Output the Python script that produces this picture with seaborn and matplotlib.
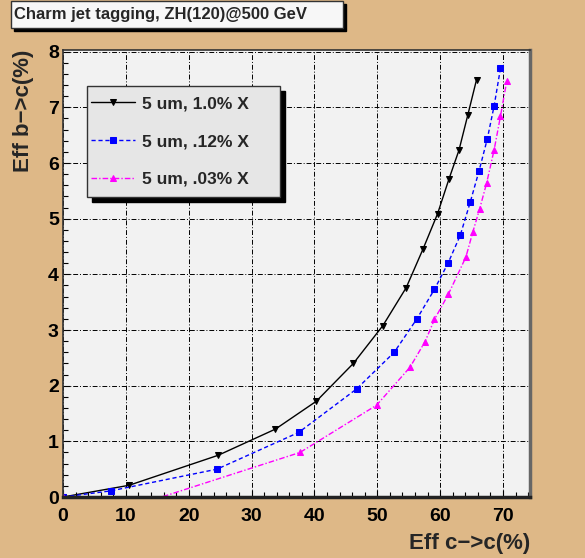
import pandas as pd
import seaborn as sns
import matplotlib.pyplot as plt
from matplotlib.patches import Rectangle
from matplotlib.ticker import MultipleLocator

# values
eff_c_10 = [0.0, 10.5, 24.7, 33.8, 40.3, 46.2, 50.9, 54.6, 57.3, 59.6, 61.4, 63.0, 64.4, 65.8]
eff_b_10 = [0.0, 0.21, 0.75, 1.22, 1.72, 2.40, 3.08, 3.76, 4.46, 5.09, 5.71, 6.23, 6.86, 7.50]

eff_c_012 = [0.0, 7.6, 24.5, 37.5, 46.7, 52.7, 56.3, 59.1, 61.3, 63.2, 64.8, 66.2, 67.5, 68.6, 69.6]
eff_b_012 = [0.0, 0.11, 0.50, 1.16, 1.94, 2.60, 3.20, 3.73, 4.21, 4.70, 5.30, 5.86, 6.43, 7.03, 7.70]

# the .03% curve leaves the x axis at about 15.7 (no marker there)
eff_c_003 = [0.0, 15.7, 37.7, 49.9, 55.2, 57.6, 59.1, 61.3, 64.1, 65.2, 66.3, 67.4, 68.6, 69.6, 70.6]
eff_b_003 = [0.0, 0.0, 0.80, 1.65, 2.33, 2.79, 3.19, 3.64, 4.31, 4.76, 5.18, 5.64, 6.24, 6.84, 7.47]
marked_003 = [0] + list(range(2, len(eff_c_003)))

labels = ['5 um, 1.0% X', '5 um, .12% X', '5 um, .03% X']
title = 'Charm jet tagging, ZH(120)@500 GeV'

sns.set_style('ticks')
plt.rcParams['font.family'] = ['Liberation Sans', 'DejaVu Sans']
plt.rcParams['font.weight'] = 'bold'

W, H = 585, 558
fig = plt.figure(figsize=(W / 100, H / 100), dpi=100)
fig.patch.set_facecolor('#DEB887')
ax = fig.add_axes([63 / W, 1 - 497 / H, 467 / W, 447 / H])
ax.set_facecolor('#F2F2F2')

series = [
    (eff_c_10, eff_b_10, 'black', '-', 'v', 5, None),
    (eff_c_012, eff_b_012, 'blue', (0, (3, 2)), 's', 4.5, None),
    (eff_c_003, eff_b_003, 'magenta', (0, (4, 1.5, 1, 1.5)), '^', 5, marked_003),
]
for (xs, ys, col, ls, mk, ms, every), lab in zip(series, labels):
    df = pd.DataFrame({'x': xs, 'y': ys})
    sns.lineplot(data=df, x='x', y='y', ax=ax, color=col, linestyle=ls,
                 marker=mk, markersize=ms, markeredgecolor=col, lw=1,
                 markevery=every, sort=False, estimator=None, label=lab)

ax.set_xlim(0, 74.3)
ax.set_ylim(0, 8.03)
ax.xaxis.set_major_locator(MultipleLocator(10))
ax.xaxis.set_minor_locator(MultipleLocator(2))
ax.yaxis.set_major_locator(MultipleLocator(1))
ax.yaxis.set_minor_locator(MultipleLocator(0.2))
ax.tick_params(which='both', direction='in', top=False, right=False,
               labelsize=14, colors='black')
ax.tick_params(which='major', length=5, width=0.8)
ax.tick_params(which='minor', length=3.5, width=0.8)
ax.tick_params(axis='x', pad=8)
ax.tick_params(axis='y', pad=3)
for t in ax.get_xticklabels() + ax.get_yticklabels():
    t.set_fontweight('bold')
ax.grid(True, which='major', color='black', linestyle=(0, (5, 2, 1, 2)), lw=0.7)

for s in ['top', 'left']:
    ax.spines[s].set_color('#333333')
    ax.spines[s].set_linewidth(1.2)
ax.spines['bottom'].set_color('#222222')
ax.spines['bottom'].set_linewidth(2.5)
ax.spines['right'].set_color('#666666')
ax.spines['right'].set_linewidth(2.5)

ax.set_xlabel('Eff c\u2212>c(%)', loc='right', fontsize=16, fontweight='bold')
ax.set_ylabel('Eff b\u2212>c(%)', loc='top', fontsize=16, fontweight='bold')
ax.yaxis.set_label_coords(-0.062, 1.0)
ax.xaxis.set_label_coords(1.0, -0.08)

# legend box with shadow
lx0, lx1 = (87 - 63) / 467, (280 - 63) / 467
ly0, ly1 = (497 - 197) / 447, (497 - 86) / 447
sx, sy = 5 / 467, 5 / 447
ax.add_patch(Rectangle((lx0 + sx, ly0 - sy), lx1 - lx0, ly1 - ly0, transform=ax.transAxes,
                       facecolor='black', edgecolor='black', zorder=5))
ax.add_patch(Rectangle((lx0, ly0), lx1 - lx0, ly1 - ly0, transform=ax.transAxes,
                       facecolor='#E6E6E6', edgecolor='#333333', lw=1, zorder=6))
leg = ax.legend(loc='center left', bbox_to_anchor=(lx0, ly0, lx1 - lx0, ly1 - ly0),
                frameon=False, fontsize=12.5, handlelength=2.5, handletextpad=0.4,
                labelspacing=1.3, borderaxespad=0, borderpad=0.25)
leg.set_zorder(7)
for t in leg.get_texts():
    t.set_fontweight('bold')

# title box with shadow
tx0, tw = 11 / W, 332 / W
ty0, th = 1 - 28 / H, 27 / H
fig.add_artist(Rectangle((tx0 + 3 / W, ty0 - 3 / H), tw, th, transform=fig.transFigure,
                         facecolor='black', edgecolor='black'))
fig.add_artist(Rectangle((tx0, ty0), tw, th, transform=fig.transFigure,
                         facecolor='#F7F7F7', edgecolor='#333333', lw=1))
fig.text(14 / W, 1 - 15 / H, title, fontsize=12, fontweight='bold', va='center', ha='left')

fig.savefig('out.png', dpi=100, facecolor=fig.get_facecolor())
